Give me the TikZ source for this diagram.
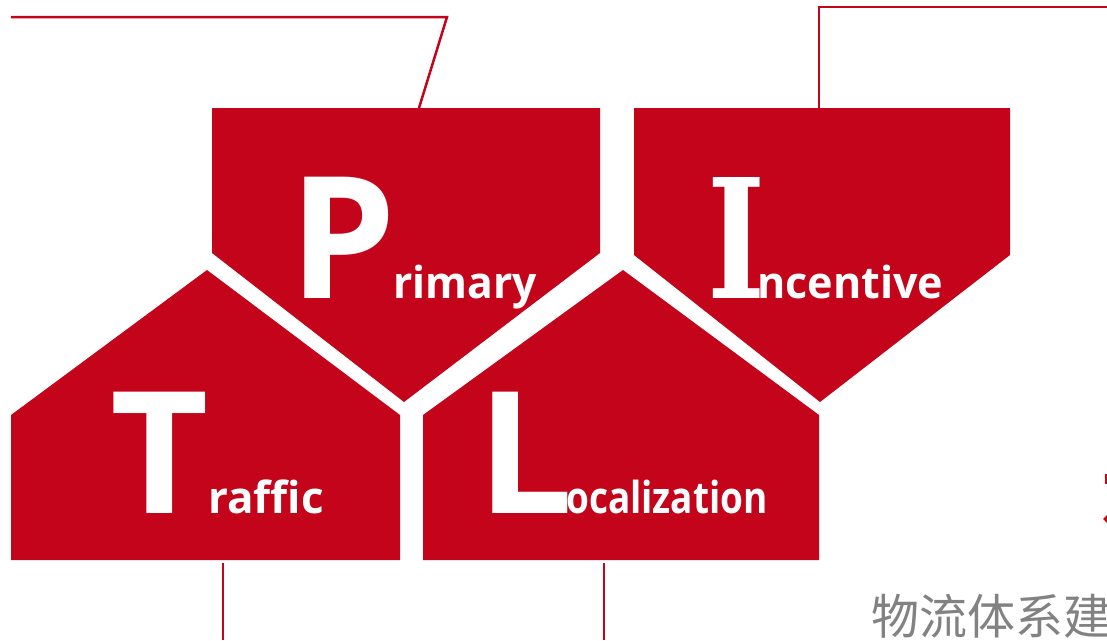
\documentclass[tikz,border=0pt]{standalone}
\usepackage{fontspec}
\setmainfont{Open Sans}
\newfontfamily\slabfont{DejaVu Serif}
\newfontfamily\cjkfont{Noto Sans CJK SC}
\definecolor{plitred}{RGB}{196,4,26}
\definecolor{plitgray}{RGB}{130,130,130}

\begin{document}
\begin{tikzpicture}[x=1pt,y=-1pt,
  block/.style={fill=plitred},
  leader/.style={draw=plitred,line width=2.5pt},
  bigletter/.style={text=white,font=\bfseries\fontsize{170}{170}\selectfont,inner sep=0,anchor=base west},
  word/.style={text=white,font=\bfseries\fontsize{44}{44}\selectfont,inner sep=0,anchor=base west}]
\useasboundingbox (0,0) rectangle (1107,640);
\clip (0,0) rectangle (1107,640);

% the four blocks
\fill[block] (212,108) -- (600,108) -- (600,253) -- (404,402) -- (212,253) -- cycle;
\fill[block] (634,108) -- (1010,108) -- (1010,255) -- (820,402) -- (634,255) -- cycle;
\fill[block] (207,270) -- (400,415) -- (400,560) -- (11,560) -- (11,415) -- cycle;
\fill[block] (623,270) -- (819,415) -- (819,560) -- (423,560) -- (423,415) -- cycle;

% letters
\node[bigletter] (bigP) at (289,298) {P};
\node[word] (wordP) at (393,298) {\scalebox{0.97}[1]{rimary}};
\node[bigletter,font=\slabfont\bfseries\fontsize{166}{166}\selectfont] (bigI) at (707,298) {\scalebox{0.75}[1]{I}};
\node[word] (wordI) at (757,298) {\scalebox{0.98}[1]{ncentive}};
\node[bigletter] (bigT) at (110,513) {T};
\node[word] (wordT) at (208,513) {raffic};
\node[bigletter] (bigL) at (477,513) {L};
\node[word] (wordL) at (566,513) {\scalebox{0.84}[1]{ocalization}};

% leader lines
\coordinate (pFoot) at (419,108);
\coordinate (pBend) at (447,17);
\coordinate (pEnd) at (11,17);
\coordinate (iFoot) at (819,108);
\coordinate (iBend) at (819,7);
\coordinate (iEnd) at (1107,7);
\coordinate (tFoot) at (223,563);
\coordinate (tEnd) at (223,640);
\coordinate (lFoot) at (604,563);
\coordinate (lEnd) at (604,640);
\draw[leader] (pEnd) -- (pBend) -- (pFoot);
\draw[leader] (iEnd) -- (iBend) -- (iFoot);
\draw[leader] (tFoot) -- (tEnd);
\draw[leader] (lFoot) -- (lEnd);

% cut-off text at the edges
\fill[plitred] (1105,474) rectangle (1107,484);
\fill[plitred] (1103,519) -- (1107,515) -- (1107,523) -- cycle;
\node[text=plitgray,font=\cjkfont\fontsize{48}{48}\selectfont,inner sep=0,anchor=base west] (title) at (871,634) {物流体系建};
\end{tikzpicture}
\end{document}
